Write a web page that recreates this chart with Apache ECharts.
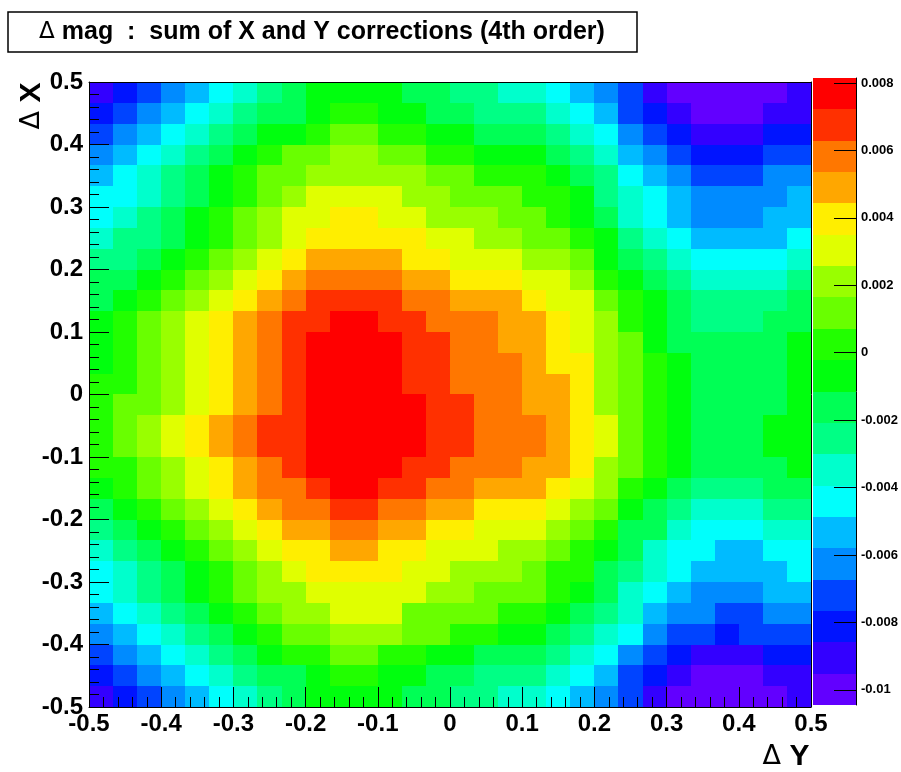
<!DOCTYPE html>
<html>
<head>
<meta charset="utf-8">
<script src="https://cdn.jsdelivr.net/npm/echarts@6/dist/echarts.min.js"></script>
<style>
    html, body {margin: 0; padding: 0; background: #fff;}
    #main {width: 901px; height: 772px;}
</style>
</head>
<body>
<div id="main"></div>
<script>
// delta mag in units of 1e-3, one row per dX bin (top row = dX 0.5 side),
// 30 columns per row going dY -0.5 -> 0.5
var magRows = [
    [-9.1, -8.1, -7.2, -6.3, -5.3, -4.4, -3.5, -2.5, -1.6, -0.7, -0.7, -0.7, -0.7, -1.6, -1.6, -2.5, -2.5, -3.5, -3.5, -4.4, -5.3, -6.3, -7.2, -9.1, -10.0, -10.0, -10.0, -10.0, -10.0, -9.1],
    [-8.1, -7.2, -6.3, -5.3, -4.4, -3.5, -2.5, -1.6, -1.6, -0.7, 0.2, 0.2, -0.7, -0.7, -1.6, -1.6, -2.5, -2.5, -2.5, -3.5, -4.4, -5.3, -7.2, -8.1, -9.1, -10.0, -10.0, -10.0, -9.1, -9.1],
    [-7.2, -6.3, -5.3, -4.4, -3.5, -2.5, -1.6, -0.7, -0.7, 0.2, 1.2, 1.2, 0.2, 0.2, -0.7, -0.7, -1.6, -1.6, -1.6, -2.5, -3.5, -4.4, -6.3, -7.2, -8.1, -9.1, -9.1, -9.1, -8.1, -8.1],
    [-6.3, -5.3, -4.4, -3.5, -2.5, -1.6, -0.7, 0.2, 1.2, 1.2, 2.1, 2.1, 1.2, 1.2, 0.2, 0.2, -0.7, -0.7, -0.7, -1.6, -2.5, -3.5, -5.3, -6.3, -7.2, -8.1, -8.1, -8.1, -7.2, -7.2],
    [-5.3, -4.4, -3.5, -2.5, -1.6, -0.7, 0.2, 1.2, 1.2, 2.1, 2.1, 2.1, 2.1, 2.1, 1.2, 1.2, 0.2, 0.2, 0.2, -0.7, -1.6, -2.5, -4.4, -5.3, -6.3, -7.2, -7.2, -7.2, -6.3, -6.3],
    [-4.4, -4.4, -3.5, -2.5, -1.6, -0.7, 0.2, 1.2, 2.1, 3.0, 3.0, 3.0, 3.0, 2.1, 2.1, 1.2, 1.2, 1.2, 0.2, 0.2, -0.7, -2.5, -3.5, -4.4, -5.3, -6.3, -6.3, -6.3, -6.3, -5.3],
    [-4.4, -3.5, -2.5, -1.6, -0.7, 0.2, 1.2, 2.1, 3.0, 3.0, 4.0, 4.0, 3.0, 3.0, 2.1, 2.1, 2.1, 1.2, 1.2, 0.2, -0.7, -1.6, -3.5, -4.4, -5.3, -6.3, -6.3, -6.3, -5.3, -5.3],
    [-3.5, -2.5, -2.5, -1.6, -0.7, 0.2, 1.2, 2.1, 3.0, 4.0, 4.0, 4.0, 4.0, 4.0, 3.0, 3.0, 2.1, 2.1, 1.2, 1.2, 0.2, -0.7, -2.5, -3.5, -4.4, -5.3, -5.3, -5.3, -5.3, -4.4],
    [-2.5, -2.5, -1.6, -0.7, 0.2, 1.2, 2.1, 3.0, 4.0, 4.9, 4.9, 4.9, 4.9, 4.0, 4.0, 3.0, 3.0, 3.0, 2.1, 2.1, 1.2, -0.7, -1.6, -2.5, -3.5, -4.4, -4.4, -4.4, -4.4, -3.5],
    [-1.6, -1.6, -0.7, 0.2, 1.2, 2.1, 3.0, 4.0, 4.9, 5.8, 5.8, 5.8, 5.8, 4.9, 4.9, 4.0, 4.0, 4.0, 3.0, 3.0, 2.1, 0.2, -0.7, -1.6, -2.5, -3.5, -3.5, -3.5, -3.5, -2.5],
    [-1.6, -0.7, 0.2, 1.2, 2.1, 3.0, 4.0, 4.9, 5.8, 6.8, 6.8, 6.8, 6.8, 5.8, 5.8, 4.9, 4.9, 4.9, 4.0, 3.0, 3.0, 1.2, 0.2, -0.7, -1.6, -2.5, -2.5, -2.5, -2.5, -1.6],
    [-0.7, 0.2, 1.2, 2.1, 3.0, 4.0, 4.9, 5.8, 6.8, 6.8, 7.7, 7.7, 6.8, 6.8, 5.8, 5.8, 5.8, 4.9, 4.9, 4.0, 3.0, 2.1, 0.2, -0.7, -1.6, -2.5, -2.5, -2.5, -1.6, -1.6],
    [-0.7, 0.2, 1.2, 2.1, 3.0, 4.0, 4.9, 5.8, 6.8, 7.7, 7.7, 7.7, 7.7, 6.8, 6.8, 5.8, 5.8, 4.9, 4.9, 4.0, 3.0, 2.1, 1.2, -0.7, -1.6, -1.6, -1.6, -1.6, -1.6, -0.7],
    [-0.7, 0.2, 1.2, 2.1, 3.0, 4.0, 4.9, 5.8, 6.8, 7.7, 7.7, 7.7, 7.7, 6.8, 6.8, 5.8, 5.8, 5.8, 4.9, 4.0, 4.0, 2.1, 1.2, 0.2, -0.7, -1.6, -1.6, -1.6, -1.6, -0.7],
    [0.2, 0.2, 1.2, 2.1, 3.0, 4.0, 4.9, 5.8, 6.8, 7.7, 7.7, 7.7, 7.7, 6.8, 6.8, 5.8, 5.8, 5.8, 4.9, 4.9, 4.0, 2.1, 1.2, 0.2, -0.7, -1.6, -1.6, -1.6, -1.6, -0.7],
    [0.2, 1.2, 1.2, 2.1, 3.0, 4.0, 4.9, 5.8, 6.8, 7.7, 7.7, 7.7, 7.7, 7.7, 6.8, 6.8, 5.8, 5.8, 4.9, 4.9, 4.0, 2.1, 1.2, 0.2, -0.7, -1.6, -1.6, -1.6, -1.6, -0.7],
    [0.2, 1.2, 2.1, 3.0, 4.0, 4.9, 5.8, 6.8, 6.8, 7.7, 7.7, 7.7, 7.7, 7.7, 6.8, 6.8, 5.8, 5.8, 5.8, 4.9, 4.0, 3.0, 1.2, 0.2, -0.7, -1.6, -1.6, -1.6, -0.7, -0.7],
    [0.2, 1.2, 2.1, 3.0, 4.0, 4.9, 5.8, 6.8, 6.8, 7.7, 7.7, 7.7, 7.7, 7.7, 6.8, 6.8, 5.8, 5.8, 5.8, 4.9, 4.0, 3.0, 1.2, 0.2, -0.7, -1.6, -1.6, -1.6, -0.7, -0.7],
    [0.2, 0.2, 1.2, 2.1, 3.0, 4.0, 4.9, 5.8, 6.8, 7.7, 7.7, 7.7, 7.7, 6.8, 6.8, 5.8, 5.8, 5.8, 4.9, 4.9, 4.0, 2.1, 1.2, 0.2, -0.7, -1.6, -1.6, -1.6, -1.6, -0.7],
    [-0.7, 0.2, 1.2, 2.1, 3.0, 4.0, 4.9, 5.8, 5.8, 6.8, 7.7, 7.7, 6.8, 6.8, 5.8, 5.8, 4.9, 4.9, 4.9, 4.0, 3.0, 2.1, 0.2, -0.7, -1.6, -2.5, -2.5, -2.5, -1.6, -1.6],
    [-1.6, -0.7, 0.2, 1.2, 2.1, 3.0, 4.0, 4.9, 5.8, 5.8, 6.8, 6.8, 5.8, 5.8, 4.9, 4.9, 4.0, 4.0, 4.0, 3.0, 2.1, 1.2, -0.7, -1.6, -2.5, -3.5, -3.5, -3.5, -2.5, -2.5],
    [-2.5, -1.6, -0.7, 0.2, 1.2, 2.1, 3.0, 4.0, 4.9, 4.9, 5.8, 5.8, 4.9, 4.9, 4.0, 4.0, 3.0, 3.0, 3.0, 2.1, 1.2, 0.2, -1.6, -1.6, -3.5, -4.4, -4.4, -4.4, -3.5, -3.5],
    [-3.5, -2.5, -1.6, -0.7, 0.2, 1.2, 2.1, 3.0, 4.0, 4.0, 4.9, 4.9, 4.0, 4.0, 3.0, 3.0, 3.0, 2.1, 2.1, 1.2, 0.2, -0.7, -1.6, -3.5, -4.4, -4.4, -5.3, -5.3, -4.4, -4.4],
    [-4.4, -3.5, -2.5, -1.6, -0.7, 0.2, 1.2, 2.1, 3.0, 4.0, 4.0, 4.0, 4.0, 3.0, 3.0, 2.1, 2.1, 2.1, 1.2, 0.2, 0.2, -1.6, -2.5, -3.5, -4.4, -5.3, -5.3, -5.3, -5.3, -4.4],
    [-4.4, -3.5, -2.5, -1.6, -0.7, 0.2, 1.2, 2.1, 2.1, 3.0, 3.0, 3.0, 3.0, 3.0, 2.1, 2.1, 1.2, 1.2, 1.2, 0.2, -0.7, -1.6, -3.5, -4.4, -5.3, -6.3, -6.3, -6.3, -5.3, -5.3],
    [-5.3, -4.4, -3.5, -2.5, -1.6, -0.7, 0.2, 1.2, 2.1, 2.1, 3.0, 3.0, 3.0, 1.2, 1.2, 1.2, 1.2, 0.2, 0.2, -0.7, -1.6, -2.5, -3.5, -5.3, -6.3, -6.3, -7.2, -7.2, -6.3, -6.3],
    [-6.3, -5.3, -4.4, -3.5, -2.5, -1.6, -0.7, 0.2, 1.2, 1.2, 2.1, 2.1, 2.1, 1.2, 1.2, 0.2, 0.2, -0.7, -0.7, -1.6, -2.5, -3.5, -4.4, -6.3, -7.2, -7.2, -8.1, -7.2, -7.2, -7.2],
    [-7.2, -6.3, -5.3, -4.4, -3.5, -2.5, -1.6, -0.7, 0.2, 0.2, 1.2, 1.2, 0.2, 0.2, -0.7, -0.7, -1.6, -1.6, -1.6, -2.5, -3.5, -4.4, -6.3, -7.2, -8.1, -9.1, -9.1, -9.1, -8.1, -8.1],
    [-8.1, -7.2, -6.3, -5.3, -4.4, -3.5, -2.5, -1.6, -1.6, -0.7, 0.2, 0.2, -0.7, -0.7, -1.6, -1.6, -2.5, -2.5, -2.5, -3.5, -4.4, -5.3, -7.2, -8.1, -9.1, -10.0, -10.0, -10.0, -9.1, -9.1],
    [-9.1, -8.1, -7.2, -6.3, -5.3, -4.4, -3.5, -2.5, -1.6, -0.7, -0.7, -0.7, -0.7, -1.6, -1.6, -2.5, -2.5, -3.5, -3.5, -4.4, -5.3, -6.3, -7.2, -9.1, -10.0, -10.0, -10.0, -10.0, -10.0, -9.1]
];

var axisMin = -0.5, axisMax = 0.5;
// contour levels of the colour scale
var zMin = -0.01045, zStep = 0.00093, nLevels = 20;
var palette = ['#6200ff', '#3300ff', '#0014ff', '#0044ff', '#008bff', '#00bbff', '#00fffc',
    '#00ffcc', '#00ff85', '#00ff55', '#00ff0e', '#22ff00', '#69ff00', '#99ff00', '#e0ff00',
    '#ffee00', '#ffa700', '#ff7700', '#ff3000', '#ff0000'];

var FONT = "'Liberation Sans', Arial, sans-serif";
var SYM = "'DejaVu Sans', sans-serif";

var nRows = magRows.length, nCols = magRows[0].length;
var binW = (axisMax - axisMin) / nCols, binH = (axisMax - axisMin) / nRows;

var cells = [];
magRows.forEach(function (row, r) {
    row.forEach(function (v, c) {
        cells.push([axisMin + (c + 0.5) * binW, axisMax - (r + 0.5) * binH, v / 1000]);
    });
});

var pieces = [], bands = [];
for (var i = 0; i < nLevels; i++) {
    var lo = zMin + i * zStep, hi = lo + zStep;
    pieces.push({gte: lo, lt: hi, color: palette[i]});
    bands.push([lo, hi, i]);
}
pieces[0] = {gte: -1, lt: zMin + zStep, color: palette[0]};
pieces[nLevels - 1] = {gte: zMin + (nLevels - 1) * zStep, lte: 1, color: palette[nLevels - 1]};

var tickLabel = {color: '#000', fontFamily: FONT, fontWeight: 'bold', fontSize: 24};
var frameLine = {onZero: false, lineStyle: {color: '#000', width: 1}};

var myChart = echarts.init(document.getElementById('main'));
var option = {
    backgroundColor: '#fff',
    animation: false,
    grid: [
        {left: 89, top: 82, width: 722, height: 625},
        {left: 813, top: 78, width: 43, height: 627}
    ],
    visualMap: {
        type: 'piecewise',
        show: false,
        seriesIndex: 0,
        dimension: 2,
        pieces: pieces
    },
    xAxis: [
        {
            gridIndex: 0, type: 'value', min: axisMin, max: axisMax, interval: 0.1,
            position: 'bottom', z: 10,
            axisLine: frameLine,
            axisTick: {inside: true, length: 20, lineStyle: {color: '#000'}},
            minorTick: {show: true, splitNumber: 5, length: 10, lineStyle: {color: '#000'}},
            splitLine: {show: false},
            axisLabel: Object.assign({margin: 5, showMinLabel: true, showMaxLabel: true}, tickLabel)
        },
        {
            gridIndex: 0, type: 'value', min: axisMin, max: axisMax, position: 'top', z: 10,
            axisLine: frameLine,
            axisTick: {show: false}, axisLabel: {show: false}, splitLine: {show: false}
        },
        {gridIndex: 1, type: 'value', min: 0, max: 1, show: false}
    ],
    yAxis: [
        {
            gridIndex: 0, type: 'value', min: axisMin, max: axisMax, interval: 0.1,
            position: 'left', z: 10,
            axisLine: frameLine,
            axisTick: {inside: true, length: 20, lineStyle: {color: '#000'}},
            minorTick: {show: true, splitNumber: 5, length: 10, lineStyle: {color: '#000'}},
            splitLine: {show: false},
            axisLabel: Object.assign({margin: 6, showMinLabel: true, showMaxLabel: true}, tickLabel)
        },
        {
            gridIndex: 0, type: 'value', min: axisMin, max: axisMax, position: 'right', z: 10,
            axisLine: frameLine,
            axisTick: {show: false}, axisLabel: {show: false}, splitLine: {show: false}
        },
        {
            gridIndex: 1, type: 'value', min: zMin, max: zMin + nLevels * zStep,
            splitNumber: 9, position: 'right', z: 10,
            axisLine: frameLine,
            axisTick: {inside: true, length: 22, lineStyle: {color: '#000'}},
            splitLine: {show: false},
            axisLabel: {
                color: '#000', fontFamily: FONT, fontWeight: 'bold',
                fontSize: 13, margin: 5, showMinLabel: false, showMaxLabel: false
            }
        }
    ],
    series: [
        {
            type: 'custom',
            xAxisIndex: 0,
            yAxisIndex: 0,
            data: cells,
            encode: {x: 0, y: 1},
            clip: true,
            renderItem: function (params, api) {
                var x = api.value(0), y = api.value(1);
                var p0 = api.coord([x - binW / 2, y + binH / 2]);
                var p1 = api.coord([x + binW / 2, y - binH / 2]);
                var x0 = Math.round(p0[0]), y0 = Math.round(p0[1]);
                var x1 = Math.round(p1[0]), y1 = Math.round(p1[1]);
                return {
                    type: 'rect',
                    shape: {x: x0, y: y0, width: x1 - x0, height: y1 - y0},
                    style: {fill: api.visual('color')}
                };
            }
        },
        {
            type: 'custom',
            xAxisIndex: 2,
            yAxisIndex: 2,
            data: bands,
            encode: {y: [0, 1]},
            renderItem: function (params, api) {
                var p0 = api.coord([0, api.value(1)]);
                var p1 = api.coord([1, api.value(0)]);
                var y0 = Math.round(p0[1]), y1 = Math.round(p1[1]);
                return {
                    type: 'rect',
                    shape: {x: p0[0], y: y0, width: p1[0] - p0[0], height: y1 - y0},
                    style: {fill: palette[api.value(2)]}
                };
            }
        }
    ],
    graphic: [
        {
            type: 'rect',
            shape: {x: 8, y: 12, width: 629, height: 40},
            style: {fill: '#fff', stroke: '#000', lineWidth: 1.5}
        },
        {
            type: 'text',
            x: 322, y: 32,
            style: {
                text: '{d|\u0394} mag  :  sum of X and Y corrections (4th order)',
                font: 'bold 25px ' + FONT,
                fill: '#000',
                align: 'center',
                verticalAlign: 'middle',
                lineHeight: 28,
                rich: {d: {fontFamily: SYM, fontWeight: 'normal', fontSize: 23, lineHeight: 28}}
            }
        },
        {
            type: 'text',
            x: 32, y: 106,
            rotation: Math.PI / 2,
            style: {
                text: '{d|\u0394} X',
                font: 'bold 30px ' + FONT,
                fill: '#000',
                align: 'center',
                verticalAlign: 'middle',
                lineHeight: 32,
                rich: {d: {fontFamily: SYM, fontWeight: 'normal', fontSize: 27, lineHeight: 32}}
            }
        },
        {
            type: 'text',
            x: 786, y: 757,
            style: {
                text: '{d|\u0394} Y',
                font: 'bold 30px ' + FONT,
                fill: '#000',
                align: 'center',
                verticalAlign: 'middle',
                lineHeight: 32,
                rich: {d: {fontFamily: SYM, fontWeight: 'normal', fontSize: 27, lineHeight: 32}}
            }
        }
    ]
};
myChart.setOption(option);
</script>
</body>
</html>
